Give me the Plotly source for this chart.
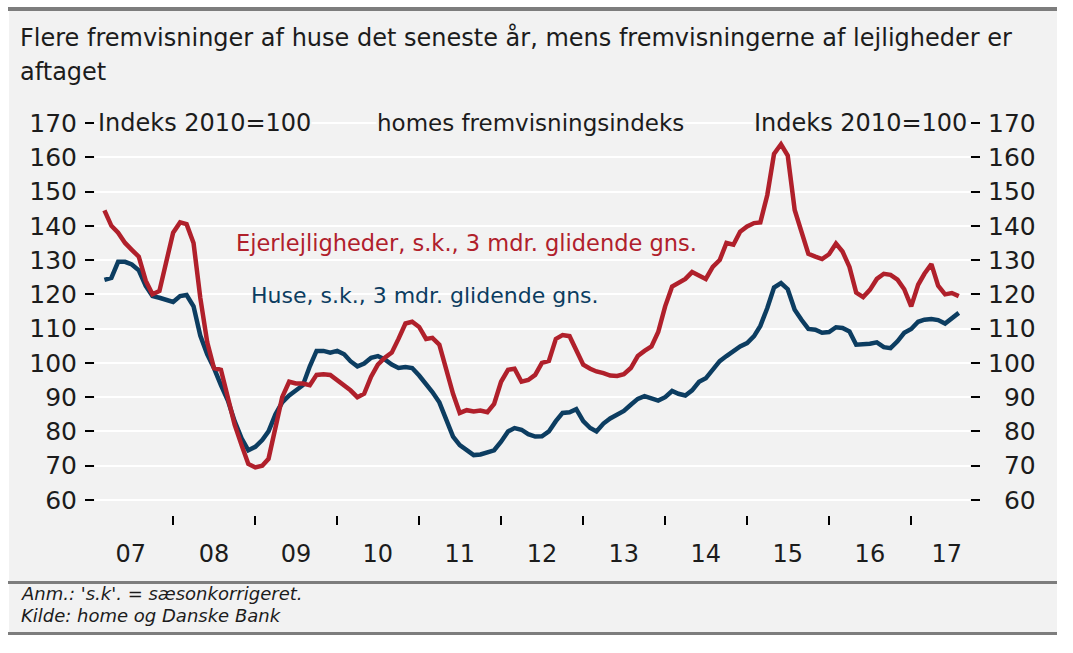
import pandas as pd
import plotly.graph_objects as go

# ---------------- data ----------------
start_month = "2007-03-01"
huse = [124.2, 124.8, 129.5, 129.5, 128.7, 127.0, 122.5, 119.5, 119.0, 118.5,
        117.8, 119.5, 119.8, 116.5, 108.0, 102.5, 98.5, 93.5, 89.0, 83.0,
        78.0, 74.5, 75.5, 77.5, 80.0, 85.0, 88.5, 90.5, 92.0, 93.5,
        99.0, 103.5, 103.5, 103.0, 103.5, 102.5, 100.5, 99.0, 99.8, 101.5,
        102.0, 101.0, 99.5, 98.5, 98.8, 98.5, 96.3, 94.0, 91.5, 88.5,
        83.5, 78.5, 76.0, 74.5, 73.1, 73.3, 73.8, 74.5, 77.0, 80.0,
        81.0, 80.5, 79.2, 78.5, 78.6, 80.0, 83.0, 85.4, 85.6, 86.5,
        83.0, 81.0, 80.0, 82.3, 83.8, 84.8, 86.0, 87.8, 89.5, 90.3,
        89.5, 89.0, 90.0, 91.8, 91.0, 90.5, 92.0, 94.5, 95.5, 97.9,
        100.5, 102.0, 103.5, 104.8, 105.8, 107.8, 110.8, 116.0, 122.0, 123.3,
        121.5, 115.5, 112.5, 109.9, 109.7, 108.8, 109.0, 110.4, 110.2, 109.2,
        105.3, 105.4, 105.6, 106.0, 104.6, 104.3, 106.3, 108.8, 109.9, 112.0,
        112.6, 112.8, 112.5, 111.5, 113.2, 114.6]
ejerlejligheder = [144.5, 140.0, 138.0, 135.0, 133.0, 131.0, 124.0, 120.0, 121.0, 130.0,
                   138.0, 141.0, 140.5, 135.0, 119.0, 106.0, 98.5, 98.0, 90.0, 82.0,
                   76.0, 70.5, 69.5, 70.0, 72.0, 81.0, 90.0, 94.5, 94.0, 94.0,
                   93.5, 96.5, 96.7, 96.5, 95.0, 93.5, 92.0, 90.0, 91.0, 96.0,
                   99.5, 101.5, 103.0, 107.0, 111.5, 112.0, 110.5, 107.0, 107.3, 105.3,
                   98.0, 91.0, 85.4, 86.2, 85.8, 86.1, 85.6, 88.0, 94.5, 98.0,
                   98.3, 94.5, 95.0, 96.5, 100.0, 100.6, 107.0, 108.1, 107.8, 103.5,
                   99.5, 98.3, 97.5, 97.0, 96.3, 96.2, 96.7, 98.5, 102.0, 103.5,
                   104.8, 109.0, 116.5, 122.3, 123.5, 124.5, 126.5, 125.5, 124.5, 128.0,
                   130.0, 135.0, 134.5, 138.3, 139.8, 140.8, 141.0, 149.0, 161.0, 163.8,
                   160.5, 144.6, 137.9, 131.8, 131.0, 130.3, 131.7, 134.8, 132.5, 128.0,
                   120.5, 119.2, 121.3, 124.5, 126.0, 125.7, 124.3, 121.5, 116.5, 122.8,
                   126.0, 128.8, 122.5, 120.0, 120.4, 119.5]
year_labels = ["07", "08", "09", "10", "11", "12", "13", "14", "15", "16", "17"]
y_ticks = [60, 70, 80, 90, 100, 110, 120, 130, 140, 150, 160, 170]

dates = pd.date_range(start_month, periods=len(huse), freq="MS")

# ---------------- layout geometry ----------------
W, H = 1073, 653
L, R, T, B = 95, 970, 116, 515
X_RANGE = ["2007-01-18", "2017-09-20"]
Y_RANGE = [55.62, 172.04]

def px(xpix):
    return (xpix - L) / (R - L)

def py(ypix):
    return (B - ypix) / (B - T)

year_ticks = [f"{y}-01-01" for y in range(2008, 2018)]
label_pos = ["2007-06-26"] + [f"{y}-07-01" for y in range(2008, 2017)] + ["2017-06-08"]

RED = "#b0202b"
BLUE = "#0c3d61"
TXT = "#1c1c1c"
GREY = "#7d7d7d"
BG = "#f2f2f2"
FONT = "DejaVu Sans"
NUMFONT = "DejaVu Sans"

fig = go.Figure()
fig.add_trace(go.Scatter(x=dates, y=huse, mode="lines", name="Huse",
                         line=dict(color=BLUE, width=4.5), xaxis="x", yaxis="y"))
fig.add_trace(go.Scatter(x=dates, y=ejerlejligheder, mode="lines", name="Ejerlejligheder",
                         line=dict(color=RED, width=4.5), xaxis="x2", yaxis="y2"))

right_text = [("\u2007" + str(v)) if v < 100 else str(v) for v in y_ticks]

fig.update_layout(
    width=W, height=H,
    margin=dict(l=L, r=W - R, t=T, b=H - B, pad=0),
    paper_bgcolor="white",
    plot_bgcolor=BG,
    showlegend=False,
    xaxis=dict(type="date", range=X_RANGE, tickvals=year_ticks, showticklabels=False,
               ticks="outside", ticklen=9, tickwidth=2, tickcolor="black",
               showgrid=False, zeroline=False, showline=False),
    xaxis2=dict(type="date", range=X_RANGE, overlaying="x", anchor="y2", side="bottom",
                tickvals=label_pos, ticktext=year_labels,
                ticks="outside", ticklen=17, tickcolor="rgba(0,0,0,0)",
                tickfont=dict(family=NUMFONT, size=24, color=TXT),
                showgrid=False, zeroline=False, showline=False),
    yaxis=dict(range=Y_RANGE, tickvals=y_ticks, ticks="outside", ticklen=9, tickwidth=2,
               tickcolor="black", tickfont=dict(family=NUMFONT, size=25, color=TXT),
               ticklabelstandoff=3,
               showgrid=True, gridcolor="white", gridwidth=2, zeroline=False, showline=False),
    yaxis2=dict(range=Y_RANGE, overlaying="y", anchor="x2", side="right",
                tickvals=y_ticks, ticktext=right_text, ticks="outside", ticklen=9, tickwidth=2,
                tickcolor="black", tickfont=dict(family=NUMFONT, size=25, color=TXT),
                ticklabelstandoff=3,
                showgrid=False, zeroline=False, showline=False),
)

# panel background and rules
fig.add_shape(type="rect", xref="paper", yref="paper", layer="below",
              x0=px(9), x1=px(1057), y0=py(634), y1=py(9),
              fillcolor=BG, line=dict(width=0))
for ypos, w in [(9, 4), (582.5, 3), (633.5, 3)]:
    fig.add_shape(type="line", xref="paper", yref="paper",
                  x0=px(8), x1=px(1057), y0=py(ypos), y1=py(ypos),
                  line=dict(color=GREY, width=w))

def ann(text, x, y, xanchor="left", size=21, color=TXT, family=FONT, bg=None, italic=False):
    if italic:
        text = f"<i>{text}</i>"
    fig.add_annotation(text=text, xref="paper", yref="paper", x=px(x), y=py(y),
                       xanchor=xanchor, yanchor="middle", showarrow=False,
                       font=dict(family=family, size=size, color=color),
                       bgcolor=bg, borderpad=0)

# title
ann("Flere fremvisninger af huse det seneste år, mens fremvisningerne af lejligheder er", 19, 38, size=24)
ann("aftaget", 19, 72, size=24)

# axis headers
ann("Indeks 2010=100", 97, 123, size=24, bg=BG)
ann("homes fremvisningsindeks", 530, 123, xanchor="center", size=23, bg=BG)
ann("Indeks 2010=100", 968, 123, xanchor="right", size=24, bg=BG)

# series labels
ann("Ejerlejligheder, s.k., 3 mdr. glidende gns.", 466, 243, xanchor="center", size=22.5, color=RED)
ann("Huse, s.k., 3 mdr. glidende gns.", 425, 295, xanchor="center", size=22, color=BLUE)

# footnotes
ann("Anm.: 's.k'. = sæsonkorrigeret.", 20, 593, size=18, italic=True)
ann("Kilde: home og Danske Bank", 20, 615, size=18, italic=True)

fig.write_html("out.html", config={"displayModeBar": False},
               post_script="document.body.style.margin='0';")
